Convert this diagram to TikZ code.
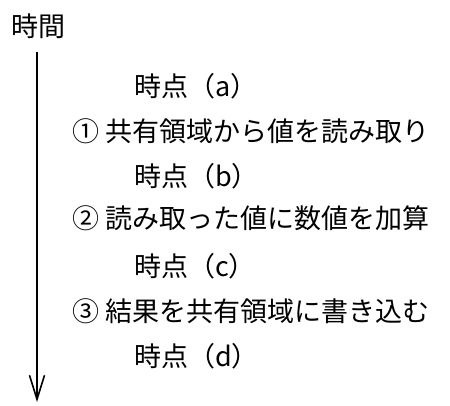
\documentclass[tikz,border=0pt]{standalone}
\usepackage{fontspec}
\usepackage{tikz}
\usepackage{xcolor}
\usetikzlibrary{arrows.meta}
\newfontfamily\jpfont{Noto Sans CJK JP}

\begin{document}
\begin{tikzpicture}[x=1pt,y=1pt]
\tikzset{every node/.style={inner sep=0pt,font=\jpfont\fontsize{27}{27}\selectfont}}
\tikzset{step text/.style={anchor=west}}
\tikzset{point text/.style={anchor=west}}
\tikzset{time line/.style={line width=1.6pt,-{Straight Barb[length=24pt,width=15pt,line width=1.6pt]}}}

\useasboundingbox (0,0) rectangle (450,-405);

\node (time) at (39,-26) {時間};
\coordinate (tail) at (37,-402);

\node[point text] (pa) at (134,-86)  {時点（a）};
\node[step text]  (s1) at (72,-131)  {① 共有領域から値を読み取り};
\node[point text] (pb) at (134,-176) {時点（b）};
\node[step text]  (s2) at (72,-218)  {② 読み取った値に数値を加算};
\node[point text] (pc) at (134,-266) {時点（c）};
\node[step text]  (s3) at (72,-311)  {③ 結果を共有領域に書き込む};
\node[point text] (pd) at (134,-356) {時点（d）};

\draw[time line] ([yshift=-13pt]time.south -| tail) -- (tail);

\end{tikzpicture}
\end{document}
